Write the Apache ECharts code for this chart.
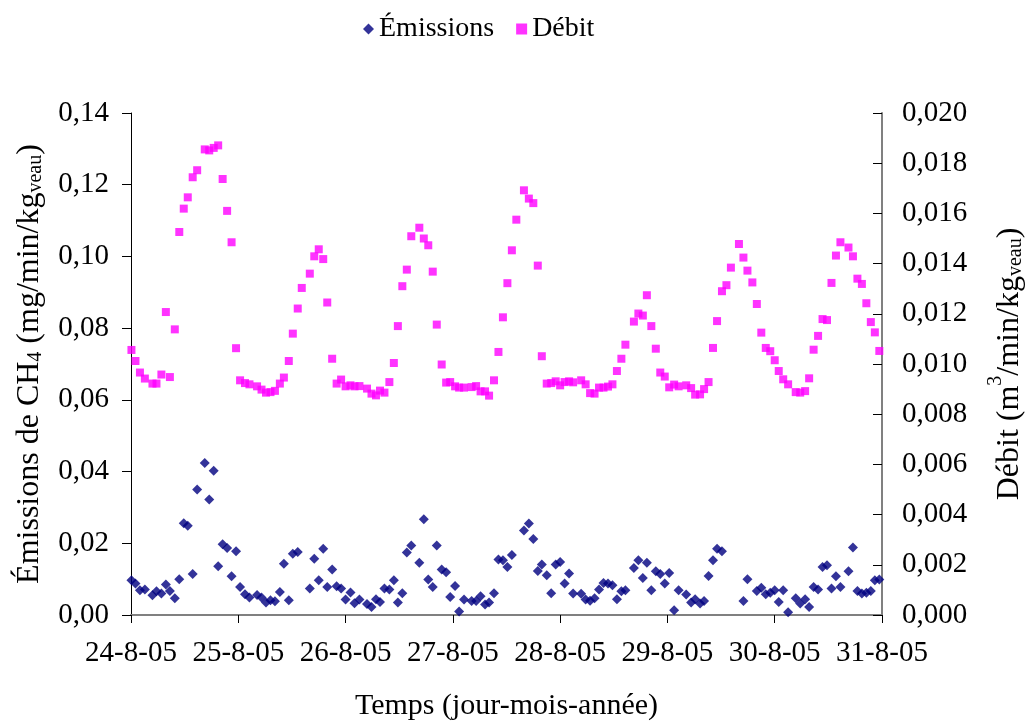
<!DOCTYPE html>
<html>
<head>
<meta charset="utf-8">
<script src="https://cdn.jsdelivr.net/npm/echarts@6/dist/echarts.min.js"></script>
<style>
html,body{margin:0;padding:0;background:#fff;overflow:hidden;width:1031px;height:723px;}
#chart{width:1031px;height:723px;}
</style>
</head>
<body>
<div id="chart"></div>
<script>
// Time of each measurement, hours since 24-8-05 00:00
var hours = [0.1,1.0,2.0,3.1,4.8,5.7,6.8,7.8,8.7,9.8,10.8,11.8,12.7,13.8,14.8,16.5,17.5,18.5,19.5,20.5,21.5,22.5,23.5,24.4,25.5,26.5,28.2,29.2,30.2,31.2,32.2,33.3,34.2,35.3,36.2,37.3,38.2,40.0,41.0,42.0,43.0,43.9,45.0,46.0,47.0,48.0,49.1,50.0,51.1,52.8,53.8,54.8,55.7,56.7,57.8,58.8,59.7,60.7,61.7,62.7,64.5,65.5,66.5,67.5,68.4,69.5,70.5,71.4,72.5,73.4,74.5,76.2,77.2,78.2,79.2,80.1,81.2,82.2,83.2,84.2,85.2,86.2,87.9,89.0,90.0,91.0,91.9,93.0,94.0,95.0,96.0,97.0,98.0,98.9,100.7,101.7,102.7,103.7,104.7,105.7,106.7,107.7,108.7,109.7,110.6,112.5,113.5,114.5,115.4,116.4,117.4,118.4,119.4,120.4,121.5,122.5,124.2,125.3,126.2,127.3,128.2,129.2,130.2,131.1,132.2,133.2,134.2,136.0,137.0,137.9,139.0,140.0,141.0,142.0,143.0,144.0,144.9,145.9,147.0,148.7,149.7,150.8,151.7,152.7,153.7,154.7,155.7,156.7,157.7,158.7,160.5,161.5,162.5,163.5,164.5,165.5,166.4,167.4];

// CH4 emissions (mg/min/kg veau), null = no measurement
var emissions = [0.0097,0.0088,0.0069,0.0071,0.0055,0.0066,0.0060,0.0085,0.0067,0.0047,0.0100,0.0256,0.0249,0.0114,0.0350,0.0424,0.0322,0.0402,0.0136,0.0197,0.0187,0.0108,0.0178,0.0078,0.0058,0.0049,0.0056,0.0049,0.0035,0.0041,0.0038,0.0064,0.0143,0.0041,0.0171,0.0176,null,0.0074,0.0157,0.0097,0.0185,0.0078,0.0127,0.0080,0.0074,0.0043,0.0063,0.0033,0.0043,0.0031,0.0022,0.0044,0.0036,0.0074,0.0071,0.0097,0.0035,0.0061,0.0174,0.0194,0.0146,0.0267,0.0099,0.0078,0.0194,0.0127,0.0119,0.0050,0.0081,0.0010,0.0043,0.0039,0.0039,0.0052,0.0029,0.0035,0.0061,0.0155,0.0153,0.0134,0.0167,null,0.0236,0.0255,0.0212,0.0123,0.0141,0.0111,0.0061,0.0141,0.0148,0.0088,0.0116,0.0060,0.0059,0.0043,0.0040,0.0047,0.0071,0.0089,0.0088,0.0083,0.0044,0.0066,0.0069,0.0131,0.0153,0.0103,0.0146,0.0069,0.0122,0.0114,0.0088,0.0117,0.0013,0.0069,0.0057,0.0035,0.0044,0.0032,0.0039,0.0109,0.0153,0.0185,0.0178,null,null,null,0.0039,0.0100,null,0.0067,0.0076,0.0058,0.0062,0.0069,0.0036,0.0069,0.0008,0.0047,0.0032,0.0044,0.0022,0.0078,0.0071,0.0134,0.0139,0.0074,0.0108,0.0078,0.0122,0.0188,0.0067,0.0060,0.0062,0.0067,0.0097,0.0099];

// Airflow (m3/min/kg veau)
var debit = [0.01056,0.01012,0.00966,0.00942,0.00922,0.00922,0.00958,0.01207,0.00948,0.01138,0.01526,0.01619,0.01664,0.01744,0.01772,0.01855,0.01851,0.01861,0.01871,0.01737,0.01610,0.01485,0.01063,0.00935,0.00924,0.00919,0.00911,0.00898,0.00886,0.00888,0.00893,0.00922,0.00946,0.01012,0.01121,0.01221,0.01303,0.01360,0.01429,0.01457,0.01418,0.01245,0.01021,0.00922,0.00938,0.00911,0.00915,0.00911,0.00912,0.00902,0.00882,0.00875,0.00894,0.00886,0.00928,0.01004,0.01151,0.01310,0.01376,0.01509,0.01543,0.01500,0.01473,0.01368,0.01157,0.00998,0.00926,0.00928,0.00911,0.00906,0.00906,0.00908,0.00912,0.00891,0.00891,0.00874,0.00935,0.01048,0.01186,0.01322,0.01453,0.01575,0.01692,0.01659,0.01641,0.01392,0.01031,0.00922,0.00924,0.00931,0.00915,0.00928,0.00931,0.00927,0.00935,0.00919,0.00884,0.00882,0.00906,0.00906,0.00910,0.00919,0.00972,0.01021,0.01077,0.01169,0.01201,0.01193,0.01274,0.01151,0.01061,0.00966,0.00950,0.00907,0.00918,0.00911,0.00915,0.00904,0.00878,0.00879,0.00900,0.00928,0.01064,0.01171,0.01290,0.01314,0.01384,0.01478,0.01424,0.01372,0.01325,0.01239,0.01125,0.01064,0.01051,0.01015,0.00972,0.00939,0.00919,0.00888,0.00886,0.00892,0.00943,0.01057,0.01112,0.01179,0.01175,0.01323,0.01432,0.01485,0.01464,0.01429,0.01340,0.01319,0.01242,0.01167,0.01126,0.01052];

var dayLabels = ['24-8-05','25-8-05','26-8-05','27-8-05','28-8-05','29-8-05','30-8-05','31-8-05'];

var FONT = 'Liberation Serif';
var FS = 29;

function pairs(vals){
  var out = [];
  for (var i = 0; i < hours.length; i++) {
    if (vals[i] !== null && vals[i] !== undefined) out.push([hours[i], vals[i]]);
  }
  return out;
}

var chart = echarts.init(document.getElementById('chart'), null, {renderer:'canvas', width:1031, height:723});

var richName = {
  n: {fontFamily: FONT, fontSize: 32, color:'#000', lineHeight: 40, verticalAlign:'bottom'},
  sub: {fontFamily: FONT, fontSize: 20, color:'#000', lineHeight: 20, verticalAlign:'bottom'},
  sup: {fontFamily: FONT, fontSize: 20, color:'#000', lineHeight: 32, verticalAlign:'top'}
};

chart.setOption({
  animation: false,
  backgroundColor: '#fff',
  textStyle: {fontFamily: FONT, color:'#000'},
  legend: {
    top: 10,
    left: 358,
    itemGap: 22,
    itemWidth: 11,
    itemHeight: 11,
    textStyle: {fontFamily: FONT, fontSize: 28, color:'#000'},
    data: [
      {name:'Émissions', icon:'diamond'},
      {name:'Débit', icon:'rect'}
    ]
  },
  grid: {left:131, right:149, top:113, bottom:108, containLabel:false, outerBoundsMode:'none'},
  xAxis: {
    type:'value', min:0, max:168, interval:24,
    name:'Temps (jour-mois-année)',
    nameLocation:'middle', nameGap:76,
    nameTextStyle:{fontFamily:FONT, fontSize:30, color:'#000'},
    axisLine:{show:true, lineStyle:{color:'#808080', width:2}},
    axisTick:{show:true, inside:false, length:8, lineStyle:{color:'#000', width:1}},
    axisLabel:{fontFamily:FONT, fontSize:FS, color:'#000', margin:24,
      formatter:function(v){ return dayLabels[Math.round(v/24)]; }},
    splitLine:{show:false}
  },
  yAxis: [
    {
      type:'value', min:0, max:0.14, interval:0.02, position:'left',
      name:'{n|Émissions de CH}{sub|4}{n| (mg/min/kg}{sub|veau}{n|)}',
      nameLocation:'middle', nameRotate:90, nameGap:85,
      nameTextStyle:{rich:richName},
      axisLine:{show:true, lineStyle:{color:'#000', width:1}},
      axisTick:{show:true, inside:false, length:9, lineStyle:{color:'#000'}},
      axisLabel:{fontFamily:FONT, fontSize:FS, color:'#000', margin:22,
        formatter:function(v){ return v.toFixed(2).replace('.', ','); }},
      splitLine:{show:false}
    },
    {
      type:'value', min:0, max:0.02, interval:0.002, position:'right',
      name:'{n|Débit (m}{sup|3}{n|/min/kg}{sub|veau}{n|)}',
      nameLocation:'middle', nameRotate:90, nameGap:104,
      nameTextStyle:{rich:richName},
      axisLine:{show:true, lineStyle:{color:'#808080', width:2}},
      axisTick:{show:true, inside:true, length:9, lineStyle:{color:'#000'}},
      axisLabel:{fontFamily:FONT, fontSize:FS, color:'#000', margin:20,
        formatter:function(v){ return v.toFixed(3).replace('.', ','); }},
      splitLine:{show:false}
    }
  ],
  series: [
    {
      name:'Émissions', type:'scatter', yAxisIndex:0,
      symbol:'diamond', symbolSize:10,
      itemStyle:{color:'#000080'},
      data: pairs(emissions)
    },
    {
      name:'Débit', type:'scatter', yAxisIndex:1,
      symbol:'rect', symbolSize:8,
      itemStyle:{color:'#FF00FF'},
      data: pairs(debit)
    }
  ]
});
</script>
</body>
</html>
